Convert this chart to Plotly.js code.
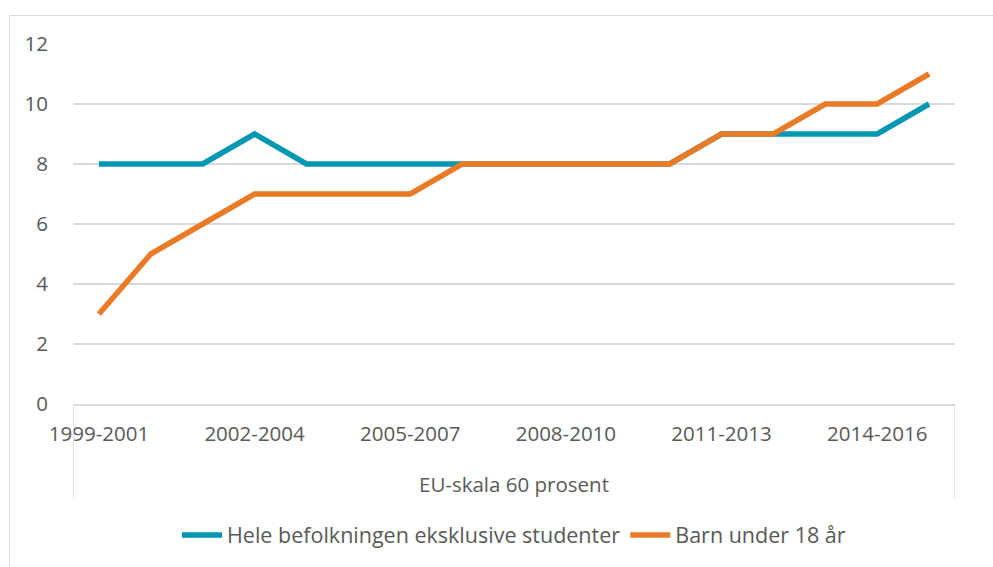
<!DOCTYPE html>
<html>
<head>
<meta charset="utf-8">
<script src="https://cdn.plot.ly/plotly-3.0.1.min.js"></script>
<style>
html,body{margin:0;padding:0;background:#fff;}
#frame{position:absolute;left:9px;top:15px;width:1100px;height:700px;border-left:1.5px solid #d9d9d9;border-top:1.5px solid #d9d9d9;}
#chart{position:absolute;left:0;top:0;width:993px;height:567px;}
</style>
</head>
<body>
<div id="frame"></div>
<div id="chart"></div>
<script>
const periods = ["1999-2001","2000-2002","2001-2003","2002-2004","2003-2005","2004-2006","2005-2007","2006-2008","2007-2009","2008-2010","2009-2011","2010-2012","2011-2013","2012-2014","2013-2015","2014-2016","2015-2017"];
const heleBefolkningen = [8,8,8,9,8,8,8,8,8,8,8,8,9,9,9,9,10];
const barnUnder18 = [3,5,6,7,7,7,7,8,8,8,8,8,9,9,10,10,11];
const shownTicks = ["1999-2001","2002-2004","2005-2007","2008-2010","2011-2013","2014-2016"];
const seriesNames = ["Hele befolkningen eksklusive studenter","Barn under 18 år"];
const groupLabel = "EU-skala 60 prosent";

const idx = periods.map((p,i)=>i);
const font = "'Open Sans', Roboto, sans-serif";
const grey = "#595959";
const fs = 20.5;

const traces = [
  {x: idx, y: heleBefolkningen, name: seriesNames[0], type:'scatter', mode:'lines',
   line:{color:'#0097b2', width:5.5, shape:'linear'}, hoverinfo:'y'},
  {x: idx, y: barnUnder18, name: seriesNames[1], type:'scatter', mode:'lines',
   line:{color:'#e97a26', width:5.5, shape:'linear'}, hoverinfo:'y'}
];

const layout = {
  width:993, height:567,
  margin:{l:73, r:38, t:44, b:163},
  paper_bgcolor:'rgba(0,0,0,0)', plot_bgcolor:'rgba(0,0,0,0)',
  font:{family:font, size:fs, color:grey},
  showlegend:true,
  legend:{orientation:'h', x:0.5, xanchor:'center', y:-0.364, yanchor:'middle',
    font:{family:font, size:21.5, color:grey}, traceorder:'normal', itemwidth:40},
  xaxis:{range:[-0.5,16.5], tickvals: shownTicks.map(t=>periods.indexOf(t)), ticktext: shownTicks,
    showgrid:false, zeroline:false, showline:true, linecolor:'#d9d9d9', linewidth:1.5,
    ticks:'outside', ticklen:11, tickcolor:'rgba(0,0,0,0)', tickfont:{family:font,size:fs,color:grey}, fixedrange:true},
  yaxis:{range:[0,12], tickvals:[0,2,4,6,8,10,12], showgrid:true, gridcolor:'#d9d9d9', gridwidth:1.5,
    zeroline:false, showline:false, ticks:'outside', ticklen:20, tickcolor:'rgba(0,0,0,0)',
    tickfont:{family:font,size:fs,color:grey}, fixedrange:true},
  shapes:[
    {type:'line', xref:'x', yref:'paper', x0:-0.5, x1:-0.5, y0:0, y1:-0.264, line:{color:'#d9d9d9', width:1.5}},
    {type:'line', xref:'x', yref:'paper', x0:16.5, x1:16.5, y0:0, y1:-0.264, line:{color:'#d9d9d9', width:1.5}}
  ],
  annotations:[
    {text:groupLabel, xref:'paper', yref:'paper', x:0.5, y:-0.222, xanchor:'center', yanchor:'middle',
     showarrow:false, font:{family:font,size:fs,color:grey}}
  ]
};
Plotly.newPlot('chart', traces, layout, {displayModeBar:false, staticPlot:true});
</script>
</body>
</html>
